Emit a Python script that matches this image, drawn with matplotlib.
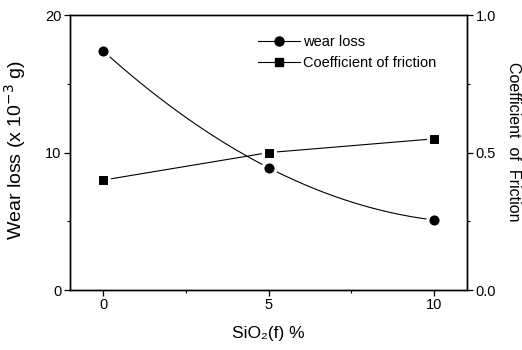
import numpy as np
import matplotlib
matplotlib.use('Agg')
import matplotlib.pyplot as plt
from matplotlib.ticker import MultipleLocator

plt.rcParams['font.family'] = ['Liberation Sans', 'DejaVu Sans']

# SiO2 fibre content vs wear loss and friction coefficient
sio2 = [0, 5, 10]
wear_loss = [17.4, 8.9, 5.1]          # x 10^-3 g
friction = [0.40, 0.50, 0.55]

fig = plt.figure(figsize=(5.22, 3.5), dpi=100)
ax = fig.add_axes([0.134, 0.171, 0.761, 0.786])
ax2 = ax.twinx()

# smooth curve through the wear loss points
xs = np.linspace(sio2[0], sio2[-1], 100)
coef = np.polyfit(sio2, wear_loss, 2)
ax.plot(xs, np.polyval(coef, xs), color='black', lw=0.8)
ax.plot(sio2, wear_loss, 'o', color='black', ms=9.5,
        mec='white', mew=2.2, zorder=3)
ax2.plot(sio2, friction, color='black', lw=0.8)
ax2.plot(sio2, friction, 's', color='black', ms=8.2,
         mec='white', mew=2.2, zorder=3)

ax.set_xlim(-1, 11)
ax.set_ylim(0, 20)
ax2.set_ylim(0, 1.0)
ax.set_xticks([0, 5, 10])
ax.set_yticks([0, 10, 20])
ax2.set_yticks([0, 0.5, 1.0])
ax2.set_yticklabels(['0.0', '0.5', '1.0'])
ax.xaxis.set_minor_locator(MultipleLocator(2.5))
ax.yaxis.set_minor_locator(MultipleLocator(5))
ax2.yaxis.set_minor_locator(MultipleLocator(0.25))

for a in (ax, ax2):
    a.tick_params(which='major', length=4, width=0.9, labelsize=10.5, pad=2)
    a.tick_params(which='minor', length=2, width=0.8)
    for s in a.spines.values():
        s.set_linewidth(1.0)

ax.set_ylabel('Wear loss (x 10$^{-3}$ g)', fontsize=14)
ax.yaxis.set_label_coords(-0.105, 0.51)
ax.set_xlabel('SiO\u2082(f) %', fontsize=12.5, labelpad=10)
ax2.set_ylabel('Coefficient  of  Friction', fontsize=11.5, rotation=-90)
ax2.yaxis.set_label_coords(1.135, 0.54)

h1, = ax.plot([], [], '-o', color='black', ms=6.5, lw=0.8)
h2, = ax.plot([], [], '-s', color='black', ms=5.5, lw=0.8)
ax.legend([h1, h2], ['wear loss', 'Coefficient of friction'],
          loc='upper right', bbox_to_anchor=(0.955, 0.975), frameon=False,
          fontsize=10.5, handlelength=2.9, handletextpad=0.2, labelspacing=0.45)

fig.savefig('out.png', dpi=100)
